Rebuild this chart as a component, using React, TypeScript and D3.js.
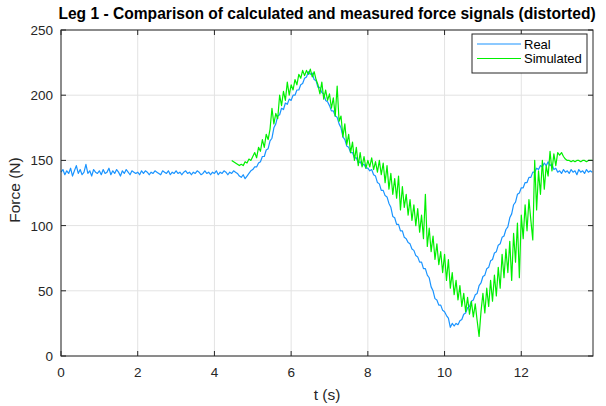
import React from "react";
import * as d3 from "d3";

// ---- data ----
const title = "Leg 1 - Comparison of calculated and measured force signals (distorted)";
const xLabel = "t (s)";
const yLabel = "Force (N)";
const seriesNames = ["Real", "Simulated"];
const xTicks = [0, 2, 4, 6, 8, 10, 12];
const yTicks = [0, 50, 100, 150, 200, 250];

// Real force, sampled every 0.05 s from t = 0
const realStart = 0;
const realStep = 0.05;
const realForce = [
  141,143,139,142,140,144,138,142,146,140,143,139,141,147,140,142,138,143,141,140,
  142,139,143,140,141,144,139,142,140,143,141,138,142,140,143,141,139,142,141,140,
  141,139,142,140,142,141,139,141,140,142,141,140,139,142,141,140,142,139,141,140,
  142,140,141,139,141,142,140,141,139,141,140,142,141,139,140,142,140,141,139,141,
  140,142,139,141,140,142,141,139,141,140,142,141,
  140,138,137,139,136,138,140,142,
  143,145,145,148,149,153,153,158,159,165,167,175,178,184,185,190,189,194,193,197,
  196,200,200,204,204,208,209,213,214,218,216,217,212,211,206,206,202,201,196,195,
  192,188,188,184,183,178,175,168,166,161,160,156,156,152,152,148,149,146,147,144,
  144,142,143,139,138,133,132,127,127,123,122,117,114,107,106,101,101,96,96,91,
  90,87,86,82,81,77,76,72,72,67,67,62,60,53,50,44,43,39,39,35,
  34,31,29,22,25,23,25,24,27,28,32,33,37,38,42,43,47,48,54,56,
  61,62,67,68,73,74,79,80,85,86,91,92,97,99,106,109,116,118,124,125,
  129,129,133,133,137,137,141,141,144,143,146,145,148,146,149,146,147,143,144,141,
  142,140,143,141,142,140,143,141,142,139,143,141,142,140,143,141,142,141,
];

// Simulated force, sampled every 0.05 s from t = 4.45
const simStart = 4.45;
const simStep = 0.05;
const simForce = [
  150,149,148,147,146,147,146,149,148,151,150,
  153,156,152,160,157,166,160,170,166,174,190,178,186,182,200,192,203,196,210,200,
  208,204,212,208,216,213,219,215,219,216,220,214,218,212,208,201,210,197,204,196,
  201,190,198,184,207,180,184,168,178,162,170,156,164,150,160,146,156,145,153,144,
  150,145,152,143,149,141,150,139,148,133,146,128,140,124,136,121,138,112,130,114,
  124,108,120,104,116,100,113,95,108,90,124,84,98,80,92,74,86,70,80,64,
  78,58,74,52,64,47,58,43,54,38,48,34,45,32,42,30,40,27,15,34,
  48,33,52,38,58,42,62,46,68,52,78,60,82,64,88,58,94,72,102,60,
  108,90,116,96,120,104,89,150,112,142,124,150,128,146,138,157,142,155,146,156,
  154,156,153,151,150,150,149,150,149,150,150,149,150,150,149,150,150,150,
];

const colors = ["#1a94ff", "#00f000"];

// ---- layout ----
const W = 606;
const H = 406;
const left = 61;
const right = 593;
const top = 30;
const bottom = 356;
const xMax = 13.87;
const font = "'Liberation Sans', Arial, Helvetica, sans-serif";
const axisColor = "#262626";

export default function App() {
  const x = d3.scaleLinear().domain([0, xMax]).range([left, right]);
  const y = d3.scaleLinear().domain([0, 250]).range([bottom, top]);

  const realPts: [number, number][] = realForce.map((v, i) => [realStart + i * realStep, v]);
  const simPts: [number, number][] = simForce.map((v, i) => [simStart + i * simStep, v]);

  const line = d3
    .line<[number, number]>()
    .x((d) => x(d[0]))
    .y((d) => y(d[1]));

  const tickLen = 5;

  return (
    <svg width={W} height={H} style={{ position: "absolute", left: 0, top: 0, background: "#fff" }}>
      <rect x={0} y={0} width={W} height={H} fill="#fff" />
      {/* grid */}
      {xTicks.map((t) => (
        <line key={"gx" + t} x1={x(t)} x2={x(t)} y1={top} y2={bottom} stroke="#e3e3e3" strokeWidth={1} />
      ))}
      {yTicks.map((t) => (
        <line key={"gy" + t} x1={left} x2={right} y1={y(t)} y2={y(t)} stroke="#e3e3e3" strokeWidth={1} />
      ))}

      {/* data */}
      <path d={line(realPts) || ""} fill="none" stroke={colors[0]} strokeWidth={1.2} strokeLinejoin="round" />
      <path d={line(simPts) || ""} fill="none" stroke={colors[1]} strokeWidth={1.2} strokeLinejoin="round" />

      {/* box */}
      <rect x={left} y={top} width={right - left} height={bottom - top} fill="none" stroke={axisColor} strokeWidth={1} />

      {/* ticks */}
      {xTicks.map((t) => (
        <g key={"tx" + t}>
          <line x1={x(t)} x2={x(t)} y1={bottom} y2={bottom - tickLen} stroke={axisColor} />
          <line x1={x(t)} x2={x(t)} y1={top} y2={top + tickLen} stroke={axisColor} />
          <text x={x(t)} y={bottom + 21} textAnchor="middle" fontFamily={font} fontSize={13.5} fill={axisColor}>
            {t}
          </text>
        </g>
      ))}
      {yTicks.map((t) => (
        <g key={"ty" + t}>
          <line x1={left} x2={left + tickLen} y1={y(t)} y2={y(t)} stroke={axisColor} />
          <line x1={right} x2={right - tickLen} y1={y(t)} y2={y(t)} stroke={axisColor} />
          <text x={left - 8} y={y(t) + 5} textAnchor="end" fontFamily={font} fontSize={13.5} fill={axisColor}>
            {t}
          </text>
        </g>
      ))}

      {/* labels */}
      <text x={(left + right) / 2} y={400} textAnchor="middle" fontFamily={font} fontSize={15.5} fill={axisColor}>
        {xLabel}
      </text>
      <text
        transform={`translate(20, 190) rotate(-90)`}
        textAnchor="middle"
        fontFamily={font}
        fontSize={15.5}
        fill={axisColor}
      >
        {yLabel}
      </text>
      <text x={(left + right) / 2} y={19} textAnchor="middle" fontFamily={font} fontSize={15.6} fontWeight="bold" fill="#000">
        {title}
      </text>

      {/* legend */}
      <rect x={472} y={34} width={115} height={39} fill="#fff" stroke={axisColor} strokeWidth={1} />
      {seriesNames.map((n, i) => (
        <g key={n}>
          <line x1={477} x2={521} y1={44 + i * 14.5} y2={44 + i * 14.5} stroke={colors[i]} strokeWidth={1.2} />
          <text x={524} y={48.5 + i * 14.5} fontFamily={font} fontSize={13} fill="#000">
            {n}
          </text>
        </g>
      ))}
    </svg>
  );
}
